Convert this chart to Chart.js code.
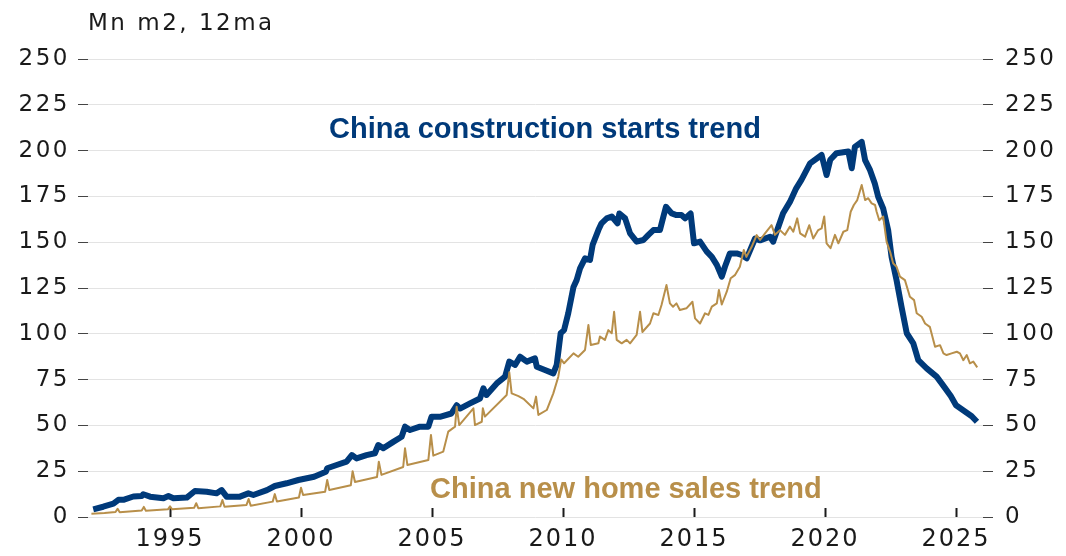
<!DOCTYPE html>
<html><head><meta charset="utf-8">
<script src="https://cdn.jsdelivr.net/npm/chart.js@4.4.1/dist/chart.umd.min.js"></script>
<style>html,body{margin:0;padding:0;background:#fff;}canvas{display:block;}</style>
</head><body>
<canvas id="c" width="1066" height="556"></canvas>
<script>
const unitLabel = 'Mn m2, 12ma';
const startsLabel = 'China construction starts trend';
const salesLabel = 'China new home sales trend';

const xTickYears = [1995, 2000, 2005, 2010, 2015, 2020, 2025];
const xTickLabels = ['1995', '2000', '2005', '2010', '2015', '2020', '2025'];
const yTickValues = [0, 25, 50, 75, 100, 125, 150, 175, 200, 225, 250];
const yTickLabels = ['0', '25', '50', '75', '100', '125', '150', '175', '200', '225', '250'];

const startsDates = [1992.07,1992.45,1992.84,1993.03,1993.22,1993.6,1993.92,1993.98,1994.24,1994.75,1994.94,1995.13,1995.64,1995.95,1996.4,1996.78,1996.97,1997.16,1997.67,1997.99,1998.18,1998.7,1999.0,1999.45,1999.9,2000.5,2000.95,2001.0,2001.36,2001.74,2001.94,2002.12,2002.5,2002.82,2002.95,2003.14,2003.52,2003.84,2003.97,2004.16,2004.54,2004.86,2004.98,2005.3,2005.74,2005.94,2006.07,2006.45,2006.83,2006.96,2007.08,2007.47,2007.79,2007.95,2008.17,2008.36,2008.62,2008.93,2009.0,2009.31,2009.63,2009.76,2009.91,2010.04,2010.2,2010.4,2010.52,2010.65,2010.84,2011.03,2011.13,2011.35,2011.47,2011.67,2011.86,2012.08,2012.15,2012.37,2012.56,2012.81,2013.07,2013.26,2013.45,2013.7,2013.83,2013.93,2014.15,2014.33,2014.52,2014.66,2014.87,2015.0,2015.23,2015.48,2015.68,2015.87,2016.06,2016.18,2016.37,2016.63,2016.82,2017.01,2017.33,2017.52,2017.9,2018.02,2018.4,2018.66,2018.9,2019.1,2019.43,2019.87,2020.06,2020.2,2020.44,2020.89,2021.02,2021.14,2021.4,2021.53,2021.72,2021.9,2022.03,2022.22,2022.41,2022.54,2022.73,2022.92,2023.12,2023.37,2023.56,2023.88,2024.26,2024.5,2024.8,2025.0,2025.3,2025.6,2025.8];
const startsValues = [4.2,5.6,7.3,9.4,9.4,11.2,11.4,12.4,11.1,10.2,11.4,10.2,10.6,14.2,13.8,12.9,14.7,11.1,11.1,12.9,12.0,14.7,16.9,18.4,20.2,22.0,24.7,26.6,28.4,30.2,33.8,32.0,33.8,34.8,39.3,37.5,41.0,43.8,49.3,47.5,49.3,49.3,54.7,54.7,56.5,61.0,59.2,62.0,64.7,70.2,66.6,72.9,76.6,84.8,83.0,87.5,84.8,86.6,82.0,80.2,78.4,83.0,100.3,102.0,111.2,125.6,129.3,135.7,141.2,140.3,148.5,156.6,160.3,163.0,164.0,160.3,165.7,163.0,154.8,150.3,151.2,154.0,156.6,156.6,163.9,169.3,165.7,164.8,164.8,163.0,165.7,149.4,150.3,145.0,142.0,137.6,131.2,136.6,143.9,143.9,143.0,141.2,152.0,151.0,153.0,150.3,165.8,172.0,179.4,184.0,193.0,197.6,186.7,195.0,198.6,199.5,190.4,202.0,204.8,194.8,189.3,182.0,174.8,168.4,156.6,142.0,129.3,114.8,100.3,94.8,85.6,81.1,76.6,72.0,66.0,61.0,58.0,55.0,52.0];

const salesDates = [1992.0,1992.5,1992.92,1993.0,1993.08,1993.92,1994.0,1994.08,1994.92,1995.0,1995.08,1995.92,1996.0,1996.08,1996.92,1997.0,1997.08,1997.92,1998.0,1998.08,1998.92,1999.0,1999.08,1999.92,2000.0,2000.08,2000.92,2001.0,2001.08,2001.9,2001.97,2002.06,2002.9,2002.97,2003.07,2003.9,2003.97,2004.06,2004.86,2004.96,2005.05,2005.43,2005.62,2005.88,2005.94,2006.04,2006.58,2006.64,2006.9,2006.94,2007.02,2007.85,2007.95,2008.04,2008.3,2008.49,2008.87,2008.97,2009.06,2009.38,2009.63,2009.82,2009.93,2010.04,2010.4,2010.58,2010.84,2010.97,2011.06,2011.35,2011.41,2011.6,2011.73,2011.86,2011.95,2012.05,2012.24,2012.43,2012.56,2012.81,2012.94,2013.03,2013.32,2013.45,2013.64,2013.76,2013.95,2014.08,2014.2,2014.33,2014.46,2014.71,2014.94,2015.04,2015.23,2015.42,2015.55,2015.68,2015.87,2015.95,2016.06,2016.25,2016.4,2016.56,2016.75,2016.9,2017.0,2017.2,2017.39,2017.52,2017.71,2017.96,2018.09,2018.28,2018.47,2018.66,2018.79,2018.94,2019.05,2019.24,2019.4,2019.55,2019.74,2019.87,2019.97,2020.06,2020.21,2020.38,2020.51,2020.7,2020.85,2020.98,2021.1,2021.23,2021.4,2021.53,2021.65,2021.78,2021.91,2021.97,2022.07,2022.22,2022.35,2022.5,2022.6,2022.73,2022.86,2023.05,2023.24,2023.4,2023.5,2023.69,2023.82,2024.0,2024.2,2024.39,2024.52,2024.64,2024.83,2025.03,2025.15,2025.28,2025.41,2025.53,2025.66,2025.81];
const salesValues = [1.8,2.2,2.7,4.5,2.6,3.6,5.5,3.4,4.2,5.8,4.2,5.0,7.5,4.8,5.8,9.3,5.6,6.6,9.8,6.2,8.4,12.5,8.5,10.6,16.0,12.0,13.8,20.2,14.7,17.3,25.0,19.1,21.8,30.2,23.0,27.3,37.5,28.4,31.1,44.8,33.5,35.7,46.6,49.3,60.2,50.2,59.3,50.2,52.0,59.3,54.8,66.6,79.0,67.5,66.0,64.5,59.3,65.7,55.7,58.4,67.5,76.6,86.0,83.9,89.3,87.5,91.2,104.8,93.9,94.8,98.5,96.7,102.0,100.3,112.0,96.7,94.8,96.7,94.8,99.4,112.0,101.0,105.6,111.2,110.3,115.7,126.6,116.6,114.8,116.6,113.0,113.9,117.5,108.4,105.6,111.2,110.3,114.8,116.6,123.9,116.0,123.0,130.3,132.0,136.6,145.7,142.0,147.5,153.9,151.2,154.8,159.3,154.0,156.6,154.0,158.5,155.7,163.0,154.8,153.0,159.3,152.0,156.6,157.5,164.0,149.4,146.7,154.0,149.4,155.7,156.6,166.6,170.3,173.0,181.2,173.0,174.0,171.2,170.3,166.6,162.0,164.0,150.3,144.0,138.5,136.6,131.2,129.3,120.2,118.4,111.2,109.3,105.6,103.8,92.9,93.8,89.3,88.4,89.3,90.2,89.3,85.6,88.4,83.9,84.8,81.7];

const BLUE = '#003a7a';
const GOLD = '#b88f4a';
const TEXT = '#1a1a1a';

const textPlugin = {
  id: 'textPlugin',
  beforeLayout(chart) { chart.ctx.letterSpacing = '2.5px'; },
  beforeDraw(chart) { chart.ctx.letterSpacing = '2.5px'; },
  afterDatasetsDraw(chart) { chart.ctx.letterSpacing = '2px'; },
  afterDraw(chart) {
    const { ctx, chartArea, scales } = chart;
    ctx.save();
    ctx.letterSpacing = '2.5px';
    ctx.font = '23px "DejaVu Sans"';
    ctx.fillStyle = TEXT;
    ctx.textAlign = 'left';
    ctx.textBaseline = 'alphabetic';
    ctx.fillText(unitLabel, chartArea.left, 30);
    ctx.letterSpacing = '0px';
    ctx.font = 'bold 29px "Liberation Sans"';
    ctx.textAlign = 'center';
    ctx.textBaseline = 'middle';
    ctx.fillStyle = BLUE;
    ctx.fillText(startsLabel, scales.x.getPixelForValue(2009.31), scales.y.getPixelForValue(211.5));
    ctx.fillStyle = GOLD;
    ctx.fillText(salesLabel, scales.x.getPixelForValue(2012.4), scales.y.getPixelForValue(14.7));
    ctx.restore();
  }
};

const yTicksCommon = {
  font: { family: 'DejaVu Sans', size: 23 },
  color: TEXT,
  callback: (v, i) => yTickLabels[i]
};

new Chart(document.getElementById('c'), {
  type: 'line',
  data: {
    datasets: [
      { label: salesLabel, data: salesDates.map((d, i) => ({ x: d, y: salesValues[i] })), borderColor: GOLD, borderWidth: 2, order: 0, pointRadius: 0, borderJoinStyle: 'round' },
      { label: startsLabel, data: startsDates.map((d, i) => ({ x: d, y: startsValues[i] })), borderColor: BLUE, borderWidth: 6, order: 1, pointRadius: 0, borderJoinStyle: 'round' }
    ]
  },
  options: {
    responsive: false,
    animation: false,
    devicePixelRatio: 1,
    layout: { padding: { top: 59, left: 0, right: 0, bottom: 0 } },
    plugins: { legend: { display: false }, tooltip: { enabled: false }, title: { display: false } },
    elements: { line: { tension: 0 } },
    scales: {
      x: {
        type: 'linear', position: 'bottom', min: 1991.87, max: 2026.03,
        afterBuildTicks: s => { s.ticks = xTickYears.map(v => ({ value: v })); },
        ticks: { callback: (v, i) => xTickLabels[i], font: { family: 'DejaVu Sans', size: 24 }, color: TEXT, padding: 17, maxRotation: 0, autoSkip: false, z: 1 },
        grid: { display: true, drawOnChartArea: false, drawTicks: true, tickLength: -9, tickColor: TEXT, tickWidth: 2 },
        border: { display: false },
        afterFit: s => { s.height = 39; }
      },
      y: {
        position: 'left', min: 0, max: 250,
        afterBuildTicks: s => { s.ticks = yTickValues.map(v => ({ value: v })); },
        ticks: Object.assign({ padding: 8 }, yTicksCommon),
        grid: { color: '#e3e3e3', lineWidth: 1, drawTicks: true, tickLength: 10, tickColor: '#444', tickWidth: 1 },
        border: { display: false },
        afterFit: s => { s.width = 88; }
      },
      y2: {
        position: 'right', min: 0, max: 250,
        afterBuildTicks: s => { s.ticks = yTickValues.map(v => ({ value: v })); },
        ticks: Object.assign({ padding: 12 }, yTicksCommon),
        grid: { drawOnChartArea: false, drawTicks: true, tickLength: 10, tickColor: '#444', tickWidth: 1 },
        border: { display: false },
        afterFit: s => { s.width = 83; }
      }
    }
  },
  plugins: [textPlugin]
});
</script>
</body></html>
